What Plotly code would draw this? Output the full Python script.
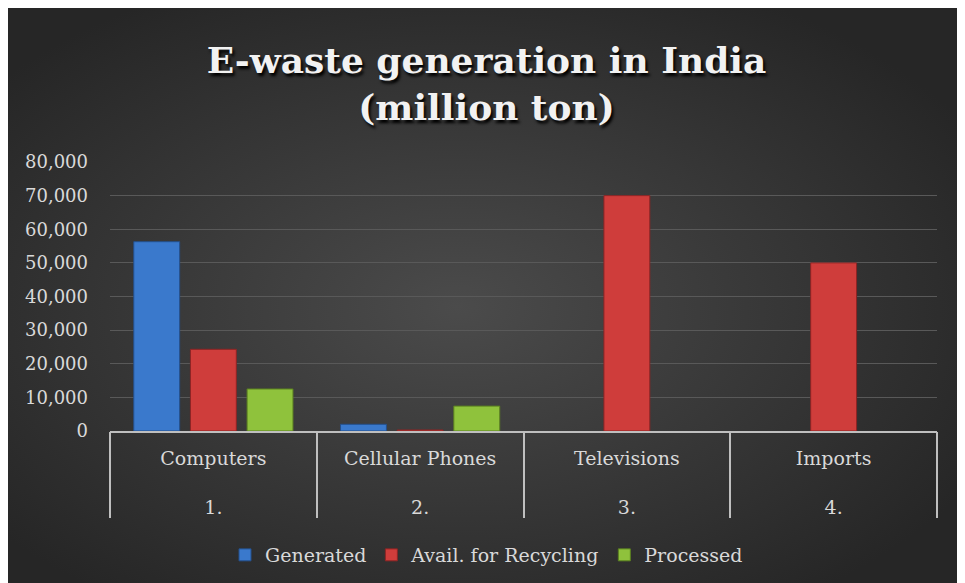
import base64
import plotly.graph_objects as go

categories = ["Computers", "Cellular Phones", "Televisions", "Imports"]
numbers = ["1.", "2.", "3.", "4."]
generated = [56300, 2000, None, None]
avail_recycling = [24300, 300, 70000, 50000]
processed = [12500, 7400, None, None]

W, H = 957, 575
L, R, T, B = 102, 28, 154, 152
pw, ph = W - L - R, H - T - B

label_font = dict(family="DejaVu Serif", size=19, color="#d9d9d9")

# radial gradient for the dark background
svg = (
    f'<svg xmlns="http://www.w3.org/2000/svg" width="{W}" height="{H}">'
    '<defs><radialGradient id="g" cx="47%" cy="52%" r="62%">'
    '<stop offset="0%" stop-color="#4b4b4b"/><stop offset="100%" stop-color="#262626"/>'
    '</radialGradient></defs>'
    f'<rect width="{W}" height="{H}" fill="url(#g)"/></svg>'
)
bg_src = "data:image/svg+xml;base64," + base64.b64encode(svg.encode()).decode()

series = [
    ("Generated", generated, "#3a79cc", "#24508c"),
    ("Avail. for Recycling", avail_recycling, "#cf3d3b", "#8c2424"),
    ("Processed", processed, "#8fc23c", "#5b8020"),
]

fig = go.Figure()
for name, vals, color, edge in series:
    fig.add_trace(go.Bar(x=categories, y=vals, name=name, marker_color=color,
                         marker_line=dict(color=edge, width=1)))

# second axis only to draw the category divider lines
boundaries = [i - 0.5 for i in range(len(categories) + 1)]
fig.add_trace(go.Scatter(x=boundaries, y=[None] * len(boundaries), xaxis="x2",
                         showlegend=False, hoverinfo="skip"))

fig.update_layout(
    width=W, height=H,
    margin=dict(l=L, r=R, t=T, b=B),
    paper_bgcolor="#363636", plot_bgcolor="rgba(0,0,0,0)",
    images=[dict(source=bg_src, xref="paper", yref="paper",
                 x=-L / pw, y=1 + T / ph, sizex=W / pw, sizey=H / ph,
                 sizing="stretch", layer="below", xanchor="left", yanchor="top")],
    title=dict(text="E-waste generation in India<br>(million ton)",
               x=0.5, xref="container", y=1 - 65 / H, yref="container",
               xanchor="center", yanchor="middle",
               font=dict(family="DejaVu Serif", size=36, color="#f2f2f2", weight="bold",
                         shadow="2px 3px 3px #000000")),
    barmode="group", bargap=0.178, bargroupgap=0.19,
    showlegend=True,
    legend=dict(orientation="h", xref="container", x=0.5, xanchor="center",
                yref="container", y=1 - 547 / H, yanchor="middle",
                font=label_font, bgcolor="rgba(0,0,0,0)"),
    xaxis=dict(type="category", range=[-0.5, len(categories) - 0.5],
               tickmode="array", tickvals=categories,
               ticktext=[f"{c}<br><br>{n}" for c, n in zip(categories, numbers)],
               ticks="", showgrid=False, showline=True, linecolor="#bfbfbf", linewidth=2,
               tickfont=label_font, ticklabelstandoff=9),
    xaxis2=dict(overlaying="x", anchor="y", side="bottom",
                range=[-0.5, len(categories) - 0.5], tickmode="array", tickvals=boundaries,
                showticklabels=False, ticks="outside", ticklen=86, tickwidth=2,
                tickcolor="#bfbfbf", showgrid=False, zeroline=False, showline=False),
    yaxis=dict(range=[0, 80000], dtick=10000, tickformat=",", showgrid=True,
               gridcolor="#595959", gridwidth=1, zeroline=False, showline=False,
               ticks="", tickfont=dict(family="DejaVu Serif", size=18, color="#d9d9d9"),
               ticklabelstandoff=21),
)

fig.write_html("out.html")
